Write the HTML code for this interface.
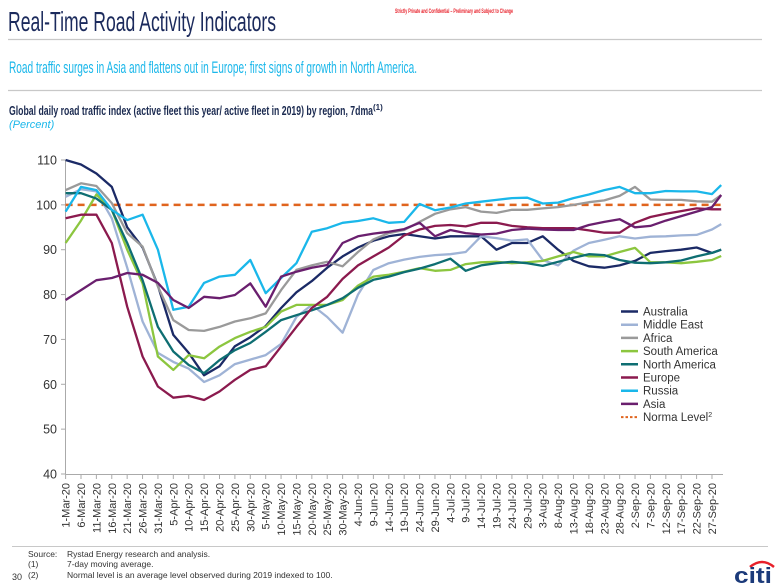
<!DOCTYPE html>
<html><head><meta charset="utf-8"><style>
html,body{margin:0;padding:0;background:#fff;}
svg{display:block;font-family:"Liberation Sans",Arial,sans-serif;}
</style></head><body>
<svg id="chart" width="780" height="585" viewBox="0 0 780 585" xmlns="http://www.w3.org/2000/svg">
<text x="8" y="31" font-size="28" fill="#1b2a5c" textLength="268" lengthAdjust="spacingAndGlyphs">Real-Time Road Activity Indicators</text>
<text x="395" y="13" font-size="6.5" font-weight="bold" fill="#e8202a" textLength="118" lengthAdjust="spacingAndGlyphs">Strictly Private and Confidential – Preliminary and Subject to Change</text>
<line x1="8" y1="39.5" x2="762" y2="39.5" stroke="#c8c8c8" stroke-width="1.2"/>
<text x="9" y="73" font-size="17" fill="#1ab7ea" textLength="408" lengthAdjust="spacingAndGlyphs">Road traffic surges in Asia and flattens out in Europe; first signs of growth in North America.</text>
<line x1="8" y1="90.5" x2="762" y2="90.5" stroke="#c8c8c8" stroke-width="1.2"/>
<text x="9" y="115" font-size="13" font-weight="bold" fill="#1b2a50"><tspan textLength="364" lengthAdjust="spacingAndGlyphs">Global daily road traffic index (active fleet this year/ active fleet in 2019) by region, 7dma</tspan><tspan font-size="8" dy="-5">(1)</tspan></text>
<text x="9" y="128" font-size="11" font-style="italic" fill="#1ab7ea">(Percent)</text>
<g id="axes"></g>
<g id="series"></g>
<g id="legend"></g>
<line x1="12" y1="546.5" x2="768" y2="546.5" stroke="#c8c8c8" stroke-width="1"/>
<g font-size="8.5" fill="#333">
<text x="28" y="557">Source:</text><text x="67" y="557">Rystad Energy research and analysis.</text>
<text x="28" y="567">(1)</text><text x="67" y="567">7-day moving average.</text>
<text x="28" y="578">(2)</text><text x="67" y="578">Normal level is an average level observed during 2019 indexed to 100.</text>
<text x="12" y="580" font-size="9">30</text>
</g>
<g>
<path d="M750 567 Q762 557 774 567" stroke="#e8202a" stroke-width="2.5" fill="none"/>
<text x="734" y="583" font-size="22" font-weight="bold" fill="#1b3a7a" textLength="38" lengthAdjust="spacingAndGlyphs">citi</text>
</g>
</svg>
<script>
const tickLabels = ["1-Mar-20","6-Mar-20","11-Mar-20","16-Mar-20","21-Mar-20","26-Mar-20","31-Mar-20","5-Apr-20","10-Apr-20","15-Apr-20","20-Apr-20","25-Apr-20","30-Apr-20","5-May-20","10-May-20","15-May-20","20-May-20","25-May-20","30-May-20","4-Jun-20","9-Jun-20","14-Jun-20","19-Jun-20","24-Jun-20","29-Jun-20","4-Jul-20","9-Jul-20","14-Jul-20","19-Jul-20","24-Jul-20","29-Jul-20","3-Aug-20","8-Aug-20","13-Aug-20","18-Aug-20","23-Aug-20","28-Aug-20","2-Sep-20","7-Sep-20","12-Sep-20","17-Sep-20","22-Sep-20","27-Sep-20"];
const days = [0,5,10,15,20,25,30,35,40,45,50,55,60,65,70,75,80,85,90,95,100,105,110,115,120,125,130,135,140,145,150,155,160,165,170,175,180,185,190,195,200,205,210,213];
const yTicks = [40,50,60,70,80,90,100,110];
const normalLevel = 100;
const australia = [110,109,107,104,95,90.5,82,71,67,62,64,68.5,70.5,73,77,80.5,83,86,88.5,90.5,92,93,93.5,93,92.5,93,93,93,90,91.5,91.5,93,90,87.5,86.3,86,86.5,87.5,89.3,89.7,90,90.5,89.3,90];
const middleEast = [101.8,103.5,103,97,86,74,67,65,63.5,60.5,62,64.5,65.5,66.5,69,75,77.7,75,71.5,80,85.5,87,87.8,88.4,88.8,89,89.5,93,92.6,92,92.3,87.7,86.5,89.8,91.5,92.2,93,92.5,92.9,93,93.2,93.3,94.5,95.7];
const africa = [103.3,104.8,104.2,100.4,93.7,90.7,81.8,74.3,72.1,71.9,72.8,74,74.7,75.8,81,85.5,86.5,87.3,86.3,89.5,92.3,93.7,94.4,96.2,98,99,99.5,98.5,98.2,98.9,98.9,99.2,99.5,100,100.6,101,102,104,101.2,101.1,101.1,100.8,100.7,102.2];
const southAmerica = [91.5,96.5,102.3,98.9,90,82.5,66.2,63.2,66.5,65.8,68.4,70.3,71.7,72.8,76.2,77.7,77.7,77.7,78.8,82,84,84.4,85.1,85.9,85.3,85.5,86.8,87.2,87.3,87,87.2,87.5,88.5,89.5,88.5,88.5,89.5,90.4,87.2,87.2,87,87.3,87.7,88.6];
const northAmerica = [102.6,102.6,101.4,98.9,91.5,83.2,72.8,67.3,64.3,62.5,65.4,67.6,69.2,71.7,74.3,75.4,76.5,77.7,79.2,81.5,83.3,84,85,85.8,86.8,88,85.3,86.5,87,87.3,87,86.4,87.3,88.2,89,88.8,87.7,87.1,87,87.2,87.6,88.5,89.3,90];
const europe = [97,97.8,97.8,91.5,77.3,66.2,59.5,57,57.4,56.5,58.4,61,63.2,64,68.4,72.8,77,79.5,83.5,86.5,88.5,90.5,93.2,94.5,95.3,95.5,95.2,96,96,95.3,95,94.8,94.8,94.8,94.3,93.8,93.8,96,97.3,98,98.6,99.2,99,99];
const russia = [98.5,104,103.3,98.9,96.6,97.8,90,76.6,77.3,82.6,84,84.4,87.7,80.3,83.7,87,94,94.8,96,96.4,97,96,96.2,100.2,98.8,99.4,100.3,100.7,101.1,101.5,101.6,100.3,100.5,101.5,102.3,103.3,104,102.6,102.6,103.1,103,103,102.4,104.4];
const asia = [78.8,81,83.2,83.7,84.8,84.4,82.6,78.8,77,79.5,79.2,79.9,82.5,77.3,84,85.1,86,86.6,91.5,93,93.6,94,94.6,96,93,94.4,93.7,93.4,93.6,94.4,94.7,94.5,94.4,94.4,95.5,96.2,96.8,95,95.3,96.5,97.5,98.5,99.5,102.2];
const seriesNames = ["Australia","Middle East","Africa","South America","North America","Europe","Russia","Asia"];
const seriesData = [australia,middleEast,africa,southAmerica,northAmerica,europe,russia,asia];
const seriesColors = ["#1b2a66","#9fb3d6","#9a9a9a","#8cc63f","#0e6e72","#8b1a4e","#1ab7ea","#6a1f6e"];

const NS="http://www.w3.org/2000/svg";
const X0=65.6, PXD=3.078, Y0=160, YSC=314/70;
const xs = d => X0 + d*PXD;
const ys = v => Y0 + (110 - v)*YSC;
function mk(tag, attrs, parent){const e=document.createElementNS(NS,tag);for(const k in attrs)e.setAttribute(k,attrs[k]);parent.appendChild(e);return e;}
const axes=document.getElementById('axes'), sg=document.getElementById('series'), lg=document.getElementById('legend');

const yAxis=mk('line',{x1:65.5,y1:ys(110),x2:65.5,y2:ys(40),stroke:'#aaa','stroke-width':1},axes);


const xAxis=mk('line',{x1:65.5,y1:474.5,x2:723,y2:474.5,stroke:'#aaa','stroke-width':1},axes);


yTicks.forEach(v=>{
  const y=ys(v);
  mk('line',{x1:61,y1:y,x2:65.5,y2:y,stroke:'#aaa'},axes);
  const t=mk('text',{x:57,y:y+4.5,'font-size':12.5,'text-anchor':'end',fill:'#333'},axes);
  t.textContent=v;
  
  
});
tickLabels.forEach((lab,i)=>{
  const x=xs(i*5);
  mk('line',{x1:x,y1:474.5,x2:x,y2:479,stroke:'#aaa'},axes);
  const t=mk('text',{x:0,y:0,'font-size':11,'text-anchor':'end',fill:'#333',transform:`translate(${x+4},483) rotate(-90)`},axes);
  t.textContent=lab;
  
  
});
const nl=mk('line',{x1:xs(0),y1:ys(normalLevel),x2:xs(days[days.length-1]),y2:ys(normalLevel),stroke:'#e0641e','stroke-width':2.5,'stroke-dasharray':'7,5'},sg);


seriesData.forEach((arr,si)=>{
  const d=arr.map((v,i)=>(i?'L':'M')+xs(days[i]).toFixed(1)+' '+ys(v).toFixed(1)).join(' ');
  const p=mk('path',{d:d,fill:'none',stroke:seriesColors[si],'stroke-width':2.3,'stroke-linejoin':'round'},sg);
  
  
});
seriesNames.concat(['Norma Level']).forEach((n,i)=>{
  const y=311.5+i*13.2;
  const g=mk('g',{},lg);
  
  
  if(i<8) mk('line',{x1:621,y1:y,x2:638,y2:y,stroke:seriesColors[i],'stroke-width':2.5},g);
  else mk('line',{x1:621,y1:y,x2:638,y2:y,stroke:'#e0641e','stroke-width':2,'stroke-dasharray':'2.5,2'},g);
  const t=mk('text',{x:643,y:y+4,'font-size':11.5,fill:'#333'},g);
  t.textContent=n;
  if(i==8){const s=mk('tspan',{'font-size':7,dy:-4},t);s.textContent='2';}
});
</script>
</body></html>
